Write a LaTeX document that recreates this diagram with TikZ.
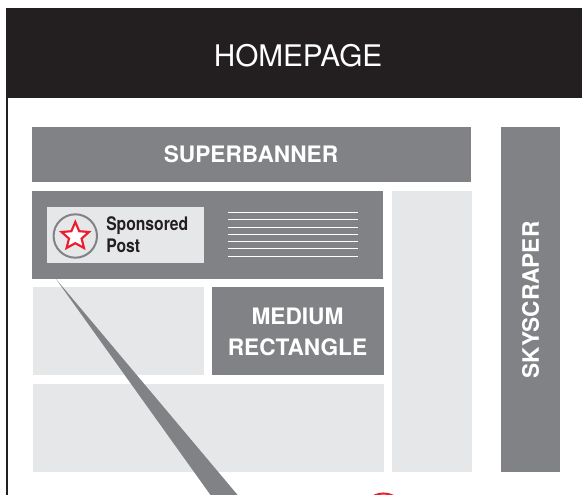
\documentclass[tikz,border=0pt]{standalone}
\usepackage{fontspec}
\setmainfont{TeX Gyre Heros}
\newfontfamily\postfont[FakeStretch=0.84]{TeX Gyre Heros}
\definecolor{headblack}{RGB}{35,31,32}
\definecolor{adgray}{RGB}{128,130,133}
\definecolor{celllight}{RGB}{230,231,232}
\definecolor{starred}{RGB}{237,28,46}
\tikzset{
  adbox/.style={fill=adgray},
  cellbox/.style={fill=celllight},
  adlabel/.style={white,font=\bfseries\fontsize{17}{23.25}\selectfont,align=center,inner sep=0pt},
  postline/.style={white,line width=0.75pt},
}
\begin{document}
\begin{tikzpicture}[x=0.75pt,y=0.75pt,yscale=-1,xscale=1]
\useasboundingbox (0,0) rectangle (582,495);
\clip (0,0) rectangle (582,495);

%Page edge
\draw [color=headblack,line width=1.5pt] (6.7,98) -- (6.7,495) ;
%Header
\fill [headblack] (5.5,8) rectangle (582,98) ;

%Ad slots
\fill [adbox] (32,127) rectangle (471,182) ;
\fill [adbox] (501,127) rectangle (560,472) ;
\fill [adbox] (32,191) rectangle (383,279) ;
\fill [adbox] (212,287) rectangle (384,375) ;
%Empty cells
\fill [cellbox] (392,191) rectangle (472,472) ;
\fill [cellbox] (33,287) rectangle (204,375) ;
\fill [cellbox] (33,384) rectangle (384,472) ;
\fill [cellbox] (47,207) rectangle (204,263) ;

%Text lines
\foreach \y in {212.8,220,227.3,234.5,241.8,249,256.3}
  \draw [postline] (228,\y) -- (358,\y) ;

%Star badge
\draw [color=adgray,line width=1.5pt] (75.3,236) circle (21.7) ;
\draw [color=starred,fill=white,line width=1.6pt,line join=miter]
  (75.3,222) -- (79.2,231.2) -- (89,232) -- (81.6,238.6) -- (84,248) -- (75.3,243.2)
  -- (66.6,248) -- (69,238.6) -- (61.6,232) -- (71.4,231.2) -- cycle ;

%Pointer
\fill [adbox] (56,279) -- (210.5,495) -- (237.6,495) -- cycle ;
%Badge below
\draw [color=starred,line width=1.5pt] (383.5,515) circle (21.5) ;

% Text Node
\node (homepage) at (298,56) [white,inner sep=0pt,font=\fontsize{22.3}{26}\selectfont] {HOMEPAGE};
% Text Node
\node (superbanner) at (251,154.5) [adlabel] {SUPERBANNER};
% Text Node
\node (medium) at (297.5,331.5) [adlabel] {MEDIUM\\RECTANGLE};
% Text Node
\node (skyscraper) at (530.5,300) [adlabel,rotate=90] {SKYSCRAPER};
% Text Node
\node (post) at (106,235) [anchor=west,inner sep=0pt,align=left,text=headblack,font=\postfont\bfseries\fontsize{14}{16.5}\selectfont] {Sponsored\\Post};
\end{tikzpicture}
\end{document}
